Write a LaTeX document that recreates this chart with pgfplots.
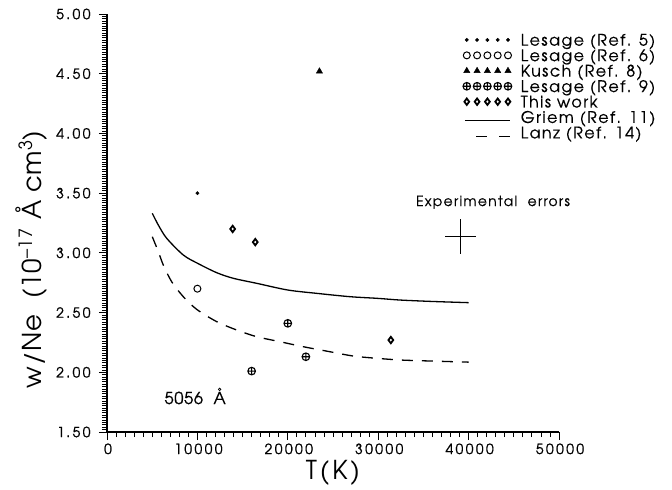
\documentclass[border=0pt]{standalone}
\usepackage{fontspec}
\setmainfont{TeX Gyre Adventor}
\usepackage{pgfplots}
\pgfplotsset{compat=1.18}
\newcommand{\tkfont}{\fontsize{14bp}{17bp}\selectfont\addfontfeatures{LetterSpace=17,FakeBold=0.8}}
\newcommand{\lgfont}{\fontsize{16bp}{18bp}\selectfont\addfontfeatures{LetterSpace=9,FakeBold=0.5}}
\newcommand{\lbfont}{\fontsize{26bp}{30bp}\selectfont\addfontfeatures{LetterSpace=11}}
\newcommand{\ylbfont}{\fontsize{26bp}{30bp}\selectfont\addfontfeatures{LetterSpace=3}}
\pgfplotsset{
  fivemarks/.style={legend image code/.code={
      \draw[##1] plot[only marks] coordinates {(4bp,1.5bp) (14.3bp,1.5bp) (24.6bp,1.5bp) (34.9bp,1.5bp) (45.2bp,1.5bp)};
  }},
  solidleg/.style={legend image code/.code={
      \draw[##1] (2bp,-2.1bp) -- (47bp,-2.1bp);
  }},
  dashleg/.style={legend image code/.code={
      \draw[##1,dash pattern=on 10.6bp off 12bp] (13.7bp,-2.1bp) -- (47bp,-2.1bp);
  }},
}
\begin{document}
\begin{tikzpicture}
\begin{axis}[
  scale only axis, width=452bp, height=418bp,
  xmin=0, xmax=50000, ymin=1.5, ymax=5,
  clip=false,
  axis lines=left, axis line style={-, line width=1.1bp},
  xtick={0,10000,...,50000}, ytick={1.5,2,...,5},
  minor x tick num=9, minor y tick num=24,
  tick align=outside,
  major tick length=8bp, minor tick length=5bp,
  every tick/.style={black, line width=0.8bp},
  scaled x ticks=false,
  /pgf/number format/assume math mode=true,
  x tick label style={/pgf/number format/1000 sep={}, font=\tkfont, xshift=1bp},
  y tick label style={/pgf/number format/.cd, fixed, fixed zerofill, precision=2, /tikz/.cd, font=\tkfont, xshift=-5bp},
  xlabel={T(K)},
  ylabel={w/Ne~~(10\textsuperscript{\textendash17}~Å~cm\textsuperscript{3})},
  every axis x label/.style={at={(rel axis cs:0.5,-0.1148)}, anchor=base, font=\lbfont},
  every axis y label/.style={at={(rel axis cs:-0.146,0.413)}, rotate=90, anchor=base, font=\ylbfont},
  legend style={at={(0.7876,0.9529)}, anchor=north west, draw=none, fill=none, inner sep=0pt, outer sep=0pt,
    row sep=0pt, column sep=9bp,
    nodes={inner sep=0pt, text height=12bp, text depth=3.45bp, font=\lgfont}},
  legend cell align=left,
]
\addplot[only marks, mark=*, mark size=1.7bp, black, fivemarks] coordinates {(10000,3.50)};
\addlegendentry{Lesage (Ref. 5)}
\addplot[only marks, mark=o, mark size=3.5bp, black, line width=1bp, fivemarks] coordinates {(10000,2.70)};
\addlegendentry{Lesage (Ref. 6)}
\addplot[only marks, mark=triangle*, mark size=3.6bp, black, fivemarks] coordinates {(23500,4.52)};
\addlegendentry{Kusch (Ref. 8)}
\addplot[only marks, mark=oplus, mark size=3.8bp, black, line width=1.1bp, fivemarks] coordinates {(20000,2.41) (16000,2.01) (22000,2.13)};
\addlegendentry{Lesage (Ref. 9)}
\addplot[only marks, mark=diamond, mark size=3.2bp, black, line width=1.8bp, fivemarks] coordinates {(13900,3.20) (16400,3.09) (31400,2.27)};
\addlegendentry{This work}
\addplot[black, line width=1.3bp, smooth, solidleg] coordinates {
  (5011,3.331) (5677,3.233) (6604,3.122) (8440,2.982) (10033,2.912) (12135,2.834)
  (13971,2.787) (16560,2.745) (19990,2.689) (23197,2.661) (26880,2.633) (29945,2.619)
  (32412,2.605) (36000,2.593) (40000,2.583)};
\addlegendentry{Griem (Ref. 11)}
\addplot[black, line width=1.3bp, smooth, dash pattern=on 11bp off 9bp, dashleg] coordinates {
  (5011,3.135) (5677,3.010) (6230,2.898) (7157,2.758) (8440,2.633) (9922,2.527) (12135,2.424)
  (14347,2.354) (16560,2.298) (19140,2.256) (21720,2.214) (24670,2.172) (27245,2.136)
  (29830,2.117) (32410,2.103) (34620,2.097) (40000,2.085)};
\addlegendentry{Lanz (Ref. 14)}
\addplot[draw=none, mark=none, forget plot, error bars/.cd, x dir=both, x explicit, y dir=both, y explicit,
  error mark=none, error bar style={black, line width=0.9bp}] coordinates {(39100,3.136) +- (1680,0.145)};
\node[anchor=base, font=\fontsize{14bp}{17bp}\selectfont\addfontfeatures{LetterSpace=9,FakeBold=0.5}] at (axis cs:42700,3.392) {Experimental~~errors};
\node[anchor=base west, font=\fontsize{16.5bp}{19bp}\selectfont\addfontfeatures{LetterSpace=4,FakeBold=0.5}] at (axis cs:5973,1.734) {5056~~Å};
\end{axis}
\path (-107bp,-52bp) rectangle (565bp,432bp);
\end{tikzpicture}
\end{document}
